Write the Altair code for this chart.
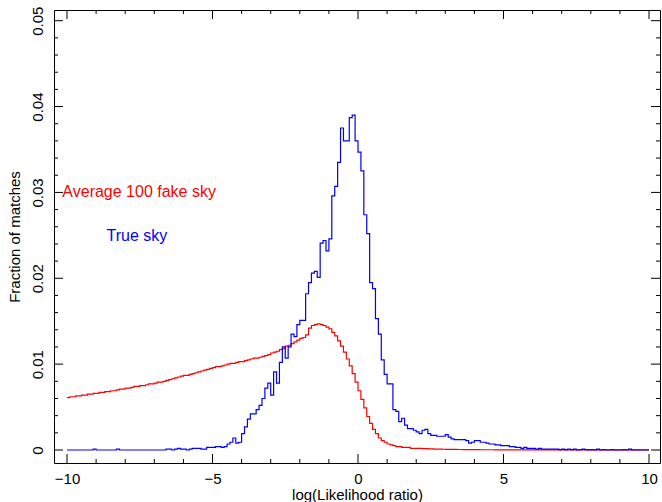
import altair as alt
import numpy as np
import pandas as pd

# ---- data ----
bin_start = -10.0
bin_width = 0.1

true_sky = [
    0, 0, 0, 0, 0, 0, 0, 0, 0, 0.0001,
    0, 0, 0, 0, 0, 0, 0, 0.0001, 0, 0,
    0, 0, 0, 0, 0, 0, 0, 0, 0, 0,
    0, 0, 0, 0, 0.0001, 0.0001, 0, 0.0001, 0.0002, 0.0001,
    0.0001, 0, 0.0001, 0.0002, 0.0002, 0.0002, 0.0001, 0.0001, 0.0003, 0.0003,
    0.0003, 0.0004, 0.0004, 0.0003, 0.0004, 0.0007, 0.0009, 0.0014, 0.0008, 0.0009,
    0.0019, 0.0027, 0.0036, 0.0042, 0.0042, 0.0047, 0.0052, 0.0060, 0.0072, 0.0078,
    0.0064, 0.0091, 0.0078, 0.0102, 0.0120, 0.0107, 0.0120, 0.0135, 0.0132, 0.0146,
    0.0151, 0.0151, 0.0182, 0.0195, 0.0206, 0.0208, 0.0201, 0.0241, 0.0244, 0.0232,
    0.0246, 0.0296, 0.0307, 0.0335, 0.0375, 0.0360, 0.0360, 0.0387, 0.0390, 0.0360,
    0.0347, 0.0325, 0.0274, 0.0252, 0.0195, 0.0188, 0.0153, 0.0135, 0.0105, 0.0088,
    0.0077, 0.0077, 0.0047, 0.0045, 0.0033, 0.0037, 0.0029, 0.0025, 0.0025, 0.0023,
    0.0021, 0.0019, 0.0023, 0.0024, 0.0019, 0.0017, 0.0017, 0.0016, 0.0016, 0.0016,
    0.0018, 0.0015, 0.0013, 0.0012, 0.0012, 0.0012, 0.0012, 0.0011, 0.0008, 0.0009,
    0.0011, 0.0011, 0.0009, 0.0009, 0.0008, 0.0007, 0.0007, 0.0006, 0.0006, 0.0005,
    0.0005, 0.0005, 0.0004, 0.0004, 0.0003, 0.0003, 0.0002, 0.0003, 0.0002, 0.0002,
    0.0002, 0.0001, 0.0002, 0.0001, 0.0001, 0.0001, 0.0001, 0.0001, 0.0001, 0.00005,
    0.0001, 0.00005, 0.0001, 0.00005, 0.0001, 0, 0.00005, 0.0001, 0.00005, 0,
    0.00005, 0, 0.0001, 0, 0.00005, 0, 0, 0.00005, 0, 0,
    0, 0.00005, 0, 0.0001, 0, 0, 0, 0, 0, 0,
]

fake_sky = [
    0.0061, 0.0062, 0.0062, 0.0063, 0.0063, 0.0064, 0.0064, 0.0065, 0.0065, 0.0066,
    0.0066, 0.0067, 0.0067, 0.0068, 0.0068, 0.0069, 0.0069, 0.0070, 0.0071, 0.0071,
    0.0072, 0.0072, 0.0073, 0.0074, 0.0074, 0.0075, 0.0075, 0.0076, 0.0077, 0.0077,
    0.0078, 0.0079, 0.0079, 0.0080, 0.0081, 0.0082, 0.0083, 0.0084, 0.0085, 0.0086,
    0.0087, 0.0087, 0.0088, 0.0089, 0.0090, 0.0091, 0.0092, 0.0093, 0.0094, 0.0095,
    0.0096, 0.0097, 0.0097, 0.0098, 0.0099, 0.0100, 0.0101, 0.0101, 0.0102, 0.0103,
    0.0103, 0.0104, 0.0105, 0.0106, 0.0107, 0.0107, 0.0108, 0.0109, 0.0110, 0.0111,
    0.0113, 0.0114, 0.0115, 0.0117, 0.0118, 0.0121, 0.0122, 0.0124, 0.0126, 0.0128,
    0.0130, 0.0131, 0.0134, 0.0142, 0.0145, 0.0146, 0.0147, 0.0146, 0.0145, 0.0143,
    0.0141, 0.0137, 0.0133, 0.0127, 0.0121, 0.0114, 0.0106, 0.0098, 0.0089, 0.0079,
    0.0069, 0.0059, 0.0049, 0.0039, 0.0031, 0.0024, 0.0019, 0.0014, 0.0011, 0.0009,
    0.0007, 0.0006, 0.0005, 0.0004, 0.0004, 0.0003, 0.0003, 0.0003, 0.0002, 0.0002,
    0.0002, 0.00018, 0.00016, 0.00015, 0.00013, 0.00012, 0.00011, 0.0001, 0.0001, 0.00009,
    0.00008, 0.00008, 0.00007, 0.00007, 0.00006, 0.00006, 0.00005, 0.00005, 0.00005, 0.00004,
    0.00004, 0.00004, 0.00003, 0.00003, 0.00003, 0.00003, 0.00003, 0.00002, 0.00002, 0.00002,
    0.00002, 0.00002, 0.00002, 0.00002, 0.00002, 0.00002, 0.00002, 0.00002, 0.00002, 0.00002,
    0.00002, 0.00002, 0.00002, 0.00001, 0.00001, 0.00001, 0.00001, 0.00001, 0.00001, 0.00001,
    0.00001, 0.00001, 0.00001, 0.00001, 0.00001, 0.00001, 0.00001, 0.00001, 0.00001, 0.00001,
    0.00001, 0.00001, 0.00001, 0.00001, 0.00001, 0.00001, 0.00001, 0.00001, 0.00001, 0.00001,
    0.00001, 0.00001, 0.00001, 0.00001, 0.00001, 0.00001, 0.00001, 0.00001, 0.00001, 0.00001,
]

x_major = [-10, -5, 0, 5, 10]
x_minor = [-9, -8, -7, -6, -4, -3, -2, -1, 1, 2, 3, 4, 6, 7, 8, 9]
y_major = [0, 0.01, 0.02, 0.03, 0.04, 0.05]
y_minor = [0.002, 0.004, 0.006, 0.008, 0.012, 0.014, 0.016, 0.018,
           0.022, 0.024, 0.026, 0.028, 0.032, 0.034, 0.036, 0.038,
           0.042, 0.044, 0.046, 0.048]

labels_text = ["Average 100 fake sky", "True sky"]
labels_x = [-10.16, -8.64]
labels_y = [0.0300, 0.0249]
labels_color = ["#ff0000", "#0000ff"]

# ---- build tables ----
edges = np.round(bin_start + bin_width * np.arange(len(true_sky) + 1), 2)


def step_table(vals):
    return pd.DataFrame({"x": edges, "y": list(vals) + [vals[-1]]})


W, H = 606, 453
FONT = "Liberation Sans"
xscale = alt.Scale(domain=[-10.447, 10.378], nice=False, zero=False)
yscale = alt.Scale(domain=[-0.001514, 0.051246], nice=False, zero=False)

X_AXIS = alt.Axis(values=x_major, ticks=False, domain=False, grid=False,
                  labelFontSize=15, labelFont=FONT, labelColor="black",
                  labelPadding=8, title="log(Likelihood ratio)",
                  titleFontSize=15, titleFont=FONT, titleFontWeight="normal",
                  titleColor="black", titlePadding=1, labelFlush=False,
                  orient="bottom")
Y_AXIS = alt.Axis(values=y_major, ticks=False, domain=False, grid=False,
                  labelFontSize=15, labelFont=FONT, labelColor="black",
                  labelAngle=270, labelAlign="center", labelBaseline="bottom",
                  labelPadding=9, title="Fraction of matches",
                  titleFontSize=15, titleFont=FONT, titleFontWeight="normal",
                  titleColor="black", titlePadding=8, labelFlush=False,
                  format=".2~f", orient="left")


def X(field="x"):
    return alt.X(f"{field}:Q", scale=xscale, axis=X_AXIS, title="log(Likelihood ratio)")


def Y(field="y"):
    return alt.Y(f"{field}:Q", scale=yscale, axis=Y_AXIS, title="Fraction of matches")


fake_line = alt.Chart(step_table(fake_sky)).mark_line(
    interpolate="step-after", color="#ff0000", strokeWidth=1.2
).encode(x=X(), y=Y())

true_line = alt.Chart(step_table(true_sky)).mark_line(
    interpolate="step-after", color="#0000ff", strokeWidth=1.2
).encode(x=X(), y=Y())


def xticks(vals, length):
    df = pd.DataFrame({"v": vals})
    bottom = alt.Chart(df).mark_rule(color="black", strokeWidth=1).encode(
        x=X("v"), y=alt.value(H), y2=alt.value(H - length))
    top = alt.Chart(df).mark_rule(color="black", strokeWidth=1).encode(
        x=X("v"), y=alt.value(0), y2=alt.value(length))
    return [bottom, top]


def yticks(vals, length):
    df = pd.DataFrame({"v": vals})
    left = alt.Chart(df).mark_rule(color="black", strokeWidth=1).encode(
        y=Y("v"), x=alt.value(0), x2=alt.value(length))
    right = alt.Chart(df).mark_rule(color="black", strokeWidth=1).encode(
        y=Y("v"), x=alt.value(W), x2=alt.value(W - length))
    return [left, right]


ann = pd.DataFrame({"t": labels_text, "x": labels_x, "y": labels_y, "c": labels_color})
texts = alt.Chart(ann).mark_text(align="left", baseline="middle", fontSize=16,
                                 font=FONT).encode(
    x=X(), y=Y(),
    text="t:N",
    color=alt.Color("c:N", scale=None),
)

layers = [fake_line, true_line, texts]
layers += xticks(x_major, 9) + xticks(x_minor, 4)
layers += yticks(y_major, 9) + yticks(y_minor, 4)

chart = alt.layer(*layers).properties(
    width=W, height=H,
    autosize="none",
    padding={"left": 54, "top": 10, "right": 2, "bottom": 39},
    background="white",
).configure_view(stroke="black", strokeWidth=1)

chart.save("out.html", embed_options={"renderer": "svg", "actions": False})
